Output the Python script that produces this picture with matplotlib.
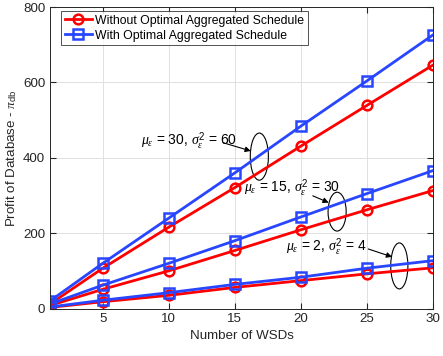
import matplotlib
matplotlib.use("Agg")
import matplotlib.pyplot as plt
from matplotlib.patches import Ellipse

plt.rcParams['font.family'] = ['Liberation Sans', 'DejaVu Sans']
plt.rcParams['mathtext.fontset'] = 'custom'
plt.rcParams['mathtext.it'] = 'Liberation Serif:italic'
plt.rcParams['mathtext.rm'] = 'Liberation Sans'

n_wsds = [1, 5, 10, 15, 20, 25, 30]

# mu=30, sigma^2=60
with_high = [20, 120, 240, 360, 484, 604, 726]
without_high = [12, 107, 216, 321, 431, 539, 646]
# mu=15, sigma^2=30
with_mid = [12, 62, 120, 180, 243, 305, 366]
without_mid = [8, 51, 100, 154, 209, 262, 313]
# mu=2, sigma^2=4
with_low = [4, 22, 42, 64, 83, 107, 127]
without_low = [3, 18, 35, 56, 74, 92, 108]

xticks = [5, 10, 15, 20, 25, 30]
yticks = [0, 200, 400, 600, 800]

RED = '#FF0000'
BLUE = '#2846FF'

fig = plt.figure(figsize=(4.43, 3.56), dpi=100)
ax = fig.add_axes([0.1129, 0.1334, 0.8645, 0.8469])

lw = 2.0
ms = 7
mew = 1.8
for i, (wo, w) in enumerate([(without_high, with_high), (without_mid, with_mid), (without_low, with_low)]):
    ax.plot(n_wsds, wo, color=RED, lw=lw, marker='o', ms=ms, mfc='none', mew=mew,
            label='Without Optimal Aggregated Schedule' if i == 0 else None)
    ax.plot(n_wsds, w, color=BLUE, lw=lw, marker='s', ms=ms, mfc='none', mew=mew,
            label='With Optimal Aggregated Schedule' if i == 0 else None)

ax.set_xlim(1, 30)
ax.set_ylim(0, 800)
ax.set_xticks(xticks)
ax.set_yticks(yticks)
ax.grid(True, color='#E0E0E0', lw=0.7)
ax.set_axisbelow(True)
ax.tick_params(direction='in', top=True, right=True, labelsize=9.6, colors='#262626', length=4)
for s in ax.spines.values():
    s.set_color('#262626')
    s.set_linewidth(0.7)

ax.set_xlabel('Number of WSDs', fontsize=9.6, color='#262626', labelpad=3)
ax.set_ylabel(r'Profit of Database - $\pi_{\mathrm{db}}$', fontsize=9.6, color='#262626', labelpad=3)

leg = ax.legend(loc='upper left', fontsize=8.8, frameon=True, fancybox=False,
                edgecolor='#262626', borderpad=0.3, handlelength=2.2, handletextpad=0.3,
                labelspacing=0.25, bbox_to_anchor=(0.029, 0.987), borderaxespad=0)
leg.get_frame().set_linewidth(0.7)

# Annotations: ellipses and arrows
ell_kw = dict(fill=False, edgecolor='black', lw=0.8)
ax.add_patch(Ellipse((16.85, 403), 1.37, 125, **ell_kw))
ax.add_patch(Ellipse((22.74, 257), 1.37, 103, **ell_kw))
ax.add_patch(Ellipse((27.45, 113), 1.3, 122, **ell_kw))

arrow = dict(arrowstyle='-|>', color='black', lw=0.8, mutation_scale=8, shrinkA=0, shrinkB=0)
ax.text(7.9, 443, r'$\mu_\epsilon$ = 30, $\sigma^2_\epsilon$ = 60', fontsize=10, ha='left', va='center', zorder=5)
ax.annotate('', xy=(16.2, 418), xytext=(14.1, 440), arrowprops=arrow)
ax.text(15.7, 320, r'$\mu_\epsilon$ = 15, $\sigma^2_\epsilon$ = 30', fontsize=10, ha='left', va='center', zorder=5)
ax.annotate('', xy=(22.1, 281), xytext=(20.9, 299), arrowprops=arrow)
ax.text(18.9, 163, r'$\mu_\epsilon$ = 2, $\sigma^2_\epsilon$ = 4', fontsize=10, ha='left', va='center', zorder=5)
ax.annotate('', xy=(26.9, 137), xytext=(25.1, 158), arrowprops=arrow)

fig.savefig('out.png', dpi=100)
